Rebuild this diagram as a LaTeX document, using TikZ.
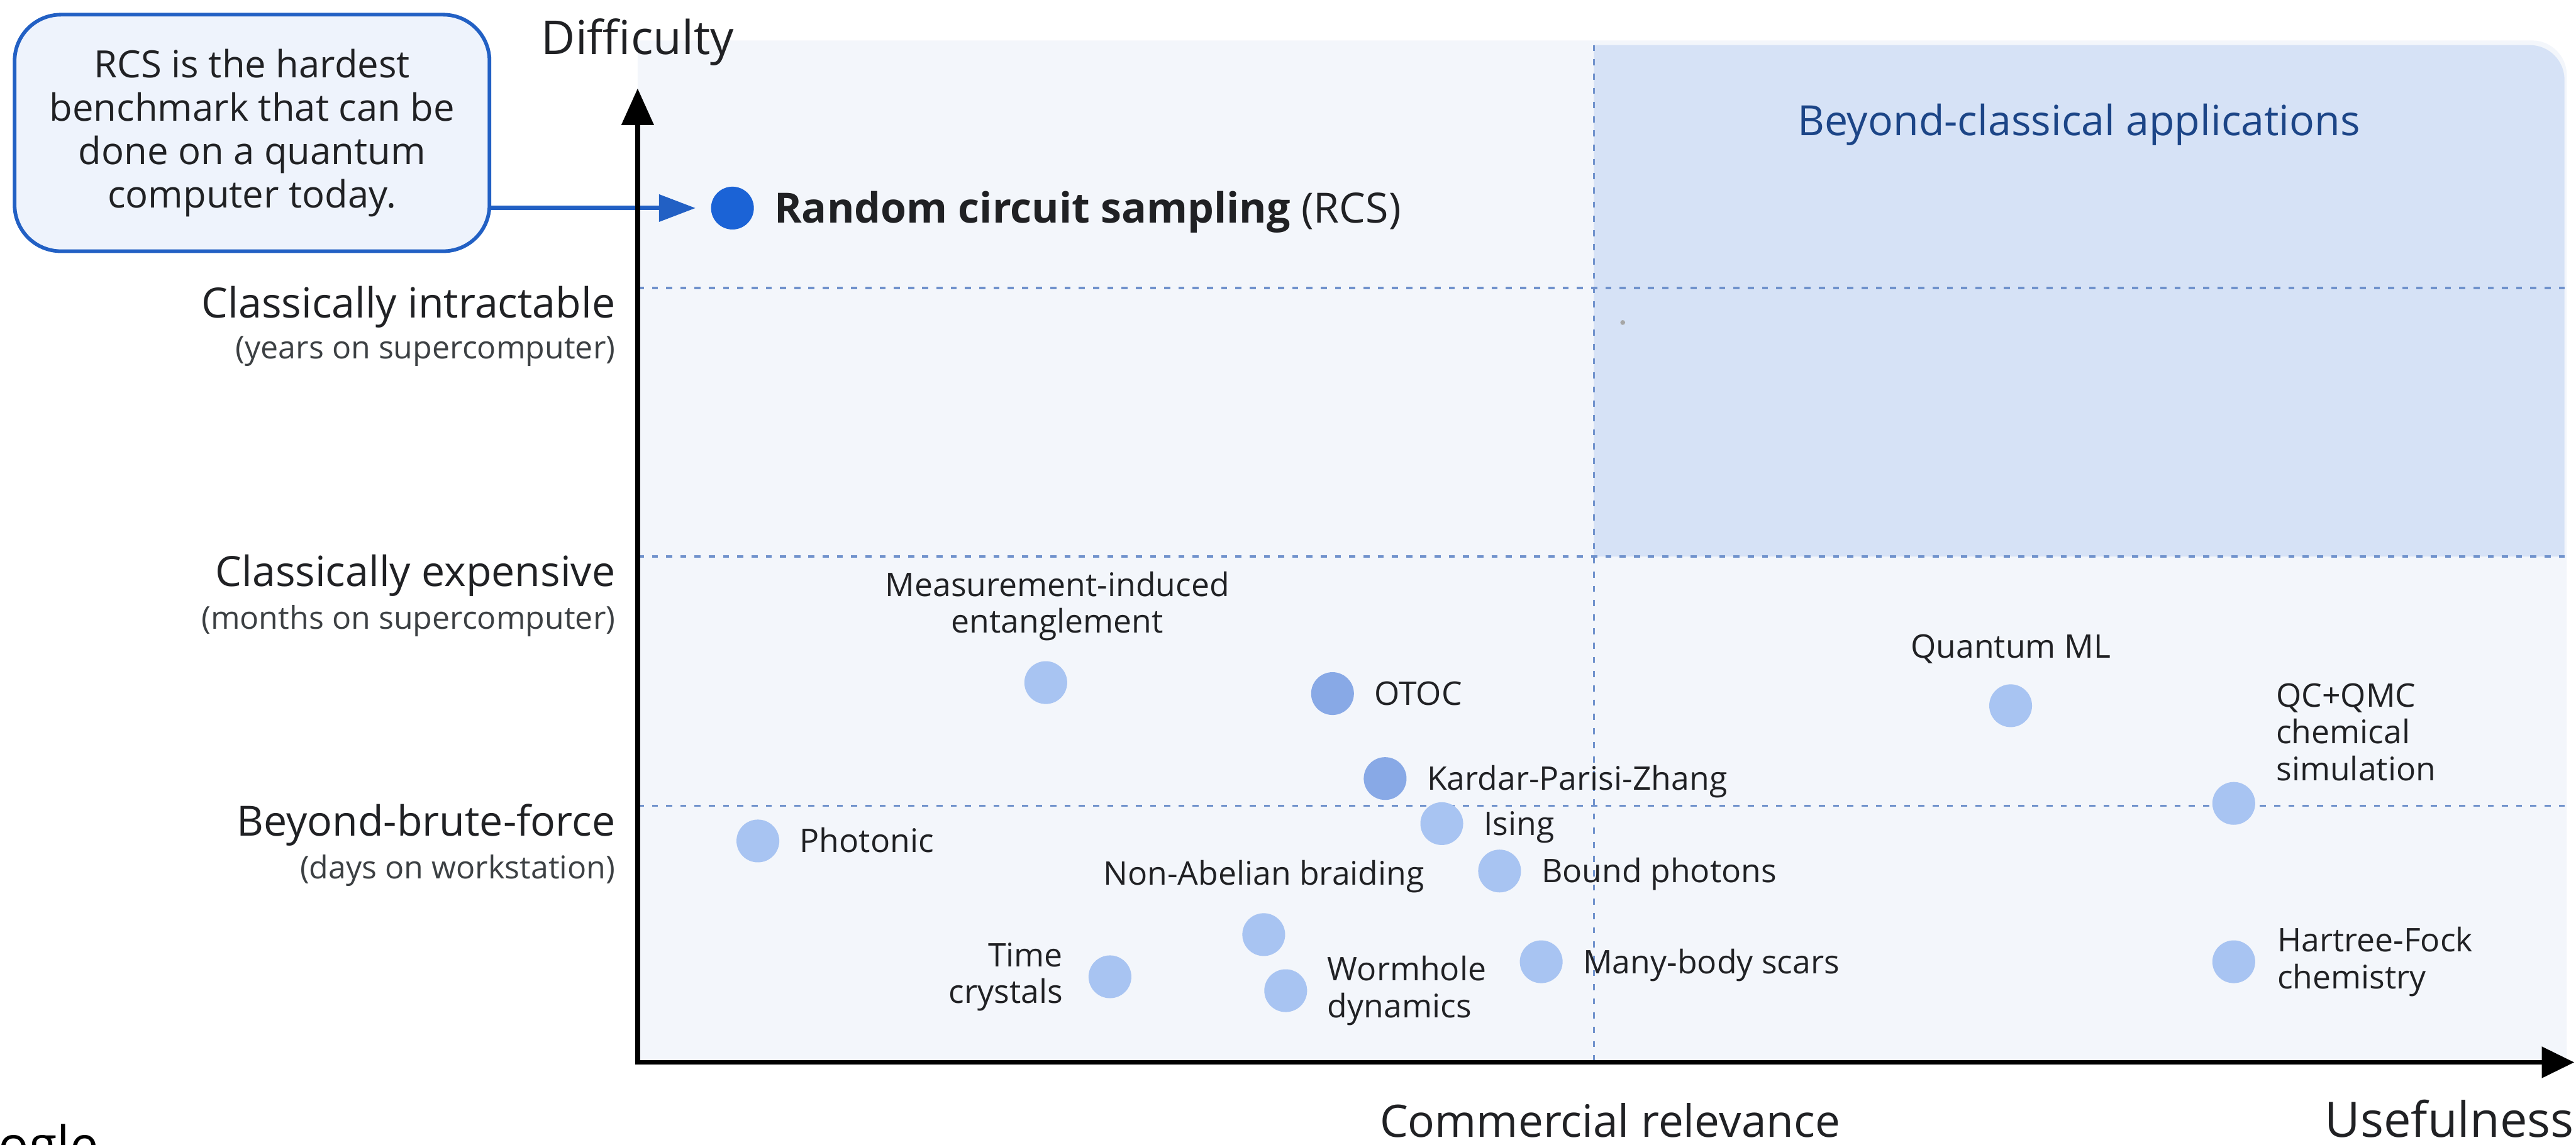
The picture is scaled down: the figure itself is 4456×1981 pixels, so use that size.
\documentclass[tikz,border=0pt]{standalone}
\usepackage{fontspec}
\setmainfont{Open Sans}
\usepackage{xcolor}
\usetikzlibrary{arrows.meta,positioning}
\definecolor{ink}{HTML}{202124}
\definecolor{inksub}{HTML}{3C4043}
\definecolor{plotbg}{HTML}{F3F6FB}
\definecolor{appbg}{HTML}{D6E2F6}
\definecolor{apptxt}{HTML}{1C4587}
\definecolor{dashc}{HTML}{7092CC}
\definecolor{notebd}{HTML}{2260C4}
\definecolor{notebg}{HTML}{EEF3FC}
\definecolor{rcsblue}{HTML}{1B63D6}
\definecolor{ptlight}{HTML}{A8C4F2}
\definecolor{ptdark}{HTML}{88A9E6}

\begin{document}
\begin{tikzpicture}[x=0.01cm,y=-0.01cm,node distance=0.34cm,color=ink,
  pt/.style={circle,fill=ptlight,minimum size=0.74cm,inner sep=0pt},
  ptd/.style={pt,fill=ptdark},
  lbl/.style={inner sep=0pt,text height=11.4pt,text depth=0pt,font=\fontsize{16}{18}\selectfont},
  mlbl/.style={inner sep=0pt,font=\fontsize{16}{18}\selectfont},
  lvl/.style={inner sep=0pt,anchor=north east,font=\fontsize{20.5}{24}\selectfont},
  lvlsub/.style={inner sep=0pt,anchor=north east,text=inksub,font=\fontsize{15.5}{18}\selectfont},
  axl/.style={inner sep=0pt,font=\fontsize{24}{28}\selectfont},
  dsh/.style={dashc,line width=1.1pt,dash pattern=on 3pt off 4pt}]
\useasboundingbox (0,0) rectangle (4456,1981);
% plot area and beyond-classical region
\fill[plotbg] (1103,70) -- (4380,70) arc[start angle=90,end angle=0,radius=0.6cm] -- (4440,1838) -- (1103,1838) -- cycle;
\fill[appbg] (2757,963) -- (2757,78) -- (4376,78) arc[start angle=90,end angle=0,radius=0.6cm] -- (4436,963) -- cycle;
\node[anchor=base,inner sep=0pt,text=apptxt,font=\fontsize{20.5}{24}\selectfont] (bca) at (3596,234) {Beyond-classical applications};
\fill[gray!70] (2807,558) circle (1.2pt);
\coordinate (o) at (1103,1838);
\coordinate (ytop) at (1103,153);
\coordinate (xend) at (4453,1838);
\coordinate (vtop) at (2757,78);
\coordinate (vbot) at (2757,1838);
\foreach \yy/\nm in {498/yI,963/yE,1394/yB}{
  \coordinate (\nm) at (1103,\yy); \coordinate (\nm r) at (4436,\yy);
  \draw[dsh] (\nm) -- (\nm r);}
\draw[dsh] (vtop) -- (vbot);
% levels
\node[lvl] (li) at ([xshift=-0.38cm,yshift=0.04cm]yI) {Classically intractable};
\node[lvlsub,below=0.14cm of li.south east,anchor=north east] (lisub) {(years on supercomputer)};
\node[lvl] (le) at ([xshift=-0.38cm,yshift=0.04cm]yE) {Classically expensive};
\node[lvlsub,below=0.14cm of le.south east,anchor=north east] (lesub) {(months on supercomputer)};
\node[lvl] (lb) at ([xshift=-0.38cm,yshift=0.04cm]yB) {Beyond-brute-force};
\node[lvlsub,below=0.14cm of lb.south east,anchor=north east] (lbsub) {(days on workstation)};
% callout
\node[draw=notebd,fill=notebg,line width=1.8pt,rounded corners=0.8cm,minimum width=8.21cm,minimum height=4.09cm,align=center,font=\fontsize{18.5}{21.3}\selectfont] (note) at (436,230) {RCS is the hardest\\benchmark that can be\\done on a quantum\\computer today.};
\node[pt,fill=rcsblue] (rcs) at (1267,360) {};
\node[lbl,right=of rcs,text height=14.6pt,font=\fontsize{20.5}{24}\selectfont] (rcsl) {\textbf{Random circuit sampling} (RCS)};
\draw[notebd,line width=2.2pt,-{Triangle[length=18pt,width=13pt]},shorten >=0.26cm] (note.east |- rcs) -- (rcs.west);
% axes
\draw[black,line width=2.3pt,{Triangle[length=18pt,width=15.5pt]}-{Triangle[length=16pt,width=15pt]}] (ytop) -- (o) -- (xend);
\node[axl,above=0.39cm of ytop,font=\fontsize{23}{27}\selectfont] (diff) {Difficulty};
\node[axl,below=0.64cm of xend,anchor=north east] (use) {Usefulness};
\node[axl,below=0.7cm of vbot,xshift=0.28cm,font=\fontsize{22}{26}\selectfont] (comm) {Commercial relevance};
% experiments
\node[pt] (mie) at (1809,1181) {};
\node[ptd] (otoc) at (2305,1200) {};
\node[ptd] (kpz) at (2396,1347) {};
\node[pt] (ising) at (2494,1425) {};
\node[pt] (bph) at (2594,1507) {};
\node[pt] (phot) at (1311,1455) {};
\node[pt] (nab) at (2186,1617) {};
\node[pt] (tc) at (1920,1690) {};
\node[pt] (wd) at (2224,1714) {};
\node[pt] (mbs) at (2666,1664) {};
\node[pt] (qml) at (3478,1221) {};
\node[pt] (qcq) at (3864,1390) {};
\node[pt] (hf) at (3864,1664) {};
\node[mlbl,align=center,above=of mie,xshift=0.2cm] (miel) {Measurement-induced\\entanglement};
\node[lbl,right=of otoc] (otocl) {OTOC};
\node[lbl,right=of kpz] (kpzl) {Kardar-Parisi-Zhang};
\node[lbl,right=of ising] (isingl) {Ising};
\node[lbl,right=of bph] (bphl) {Bound photons};
\node[lbl,right=of phot] (photl) {Photonic};
\node[mlbl,above=of nab] (nabl) {Non-Abelian braiding};
\node[mlbl,align=right,left=0.43cm of tc] (tcl) {Time\\crystals};
\node[mlbl,align=left,right=of wd] (wdl) {Wormhole\\dynamics};
\node[lbl,right=of mbs] (mbsl) {Many-body scars};
\node[mlbl,above=of qml] (qmll) {Quantum ML};
\node[mlbl,align=left,above right=0.12cm and 0.46cm of qcq] (qcql) {QC+QMC\\chemical\\simulation};
\node[mlbl,align=left,right=0.37cm of hf] (hfl) {Hartree-Fock\\chemistry};
\node[anchor=base west,inner sep=0pt,text=black,font=\fontsize{25}{30}\selectfont] (wm) at (-3,2012) {ogle};
\end{tikzpicture}
\end{document}
